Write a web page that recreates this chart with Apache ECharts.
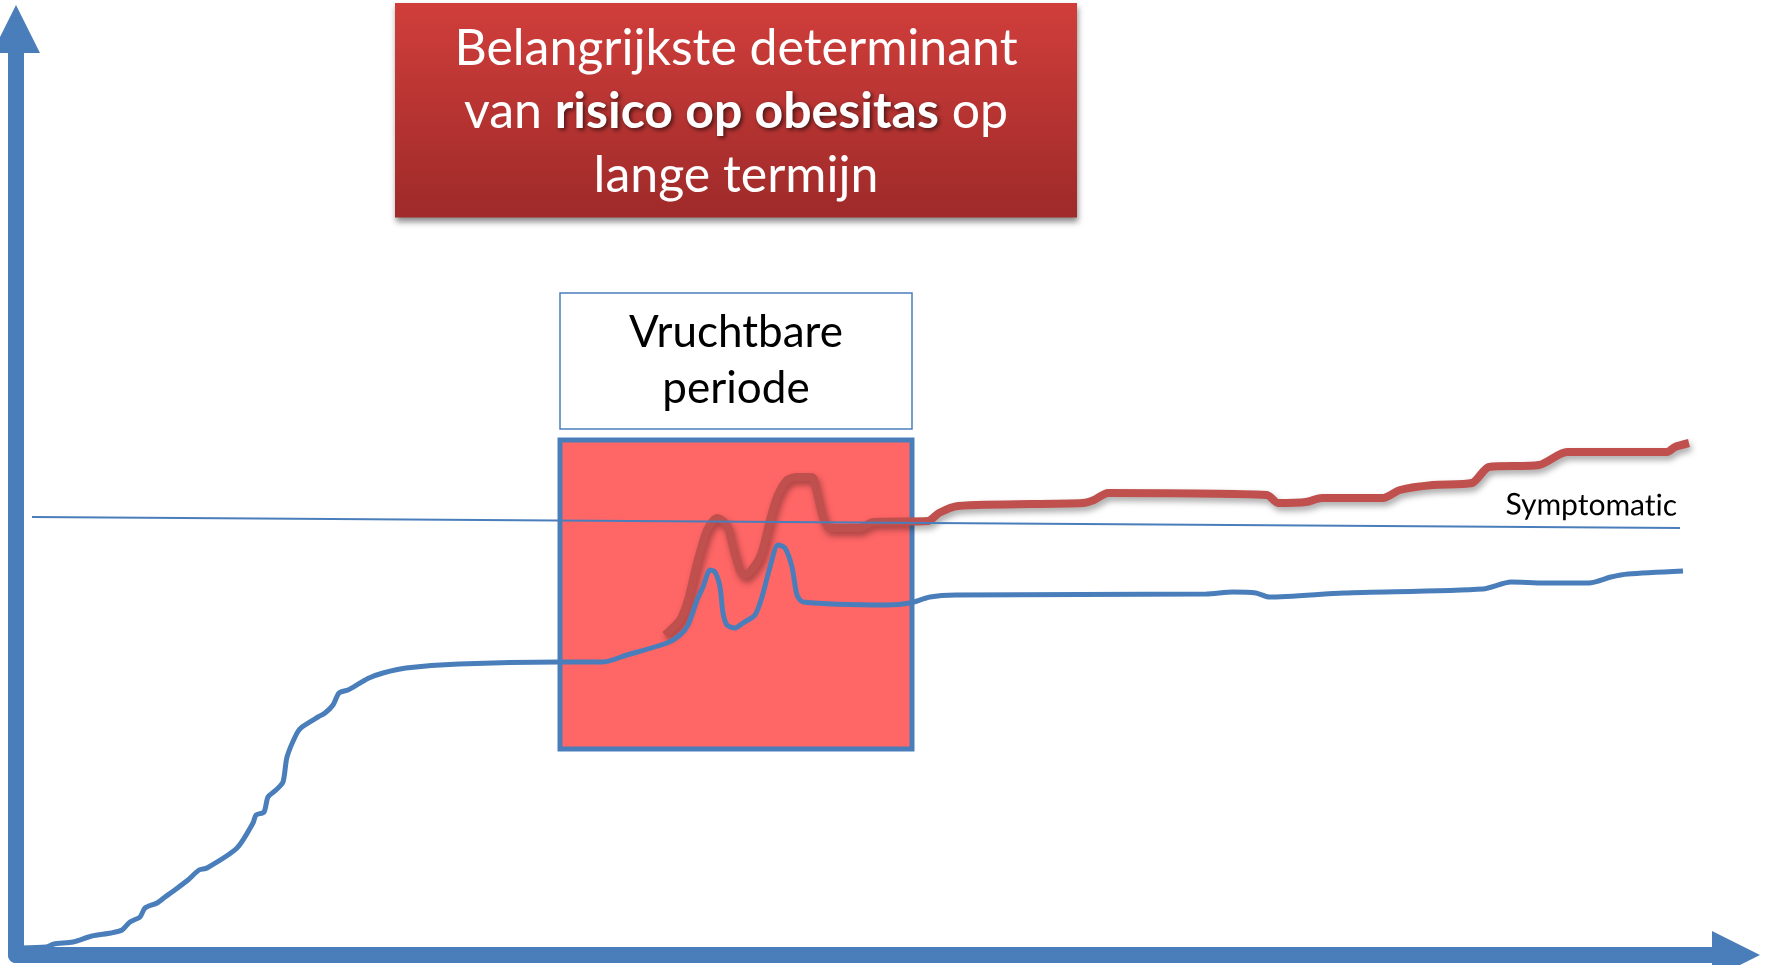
<!DOCTYPE html>
<html>
<head>
<meta charset="utf-8">
<title>Vruchtbare periode</title>
<script src="https://cdn.jsdelivr.net/npm/echarts@6/dist/echarts.min.js"></script>
<style>
  html,body{margin:0;padding:0;background:#fff;}
  #main{width:1769px;height:965px;}
</style>
</head>
<body>
<div id="main"></div>
<script>
'use strict';
// leeftijd (x) en risico (y), willekeurige eenheden
var blueX = [0.4, 3.0, 3.8, 5.7, 7.6, 9.5, 10.6, 11.4, 12.4, 12.9, 14.1, 14.9, 15.6, 17.2, 18.3,
  19.1, 22.1, 23.7, 24.0, 24.8, 25.2, 26.0, 26.7, 27.1, 28.1, 28.6, 30.2, 30.9, 31.7, 32.3,
  33.2, 34.4, 35.3, 36.7, 39.0, 44.3, 54.3, 58.7, 61.1, 65.1, 66.4, 67.2, 68.1, 68.7, 69.4,
  69.9, 70.4, 70.7, 71.1, 71.9, 72.7, 73.9, 74.6, 75.4, 76.2, 76.9, 77.6, 78.1, 78.7, 87.1,
  89.4, 91.4, 94.0, 119.0, 121.7, 124.0, 125.3, 132.8, 146.7, 149.5, 152.8, 157.3, 159.5, 161.2, 166.7];
var blueY = [0.7, 0.8, 1.1, 1.3, 1.9, 2.2, 2.5, 3.3, 3.8, 4.7, 5.2, 5.8, 6.3, 7.5, 8.5,
  8.7, 10.7, 13.2, 14.0, 14.3, 15.8, 16.5, 17.3, 19.8, 22.2, 22.8, 23.8, 24.2, 25.0, 26.2,
  26.5, 27.2, 27.7, 28.2, 28.7, 29.1, 29.3, 29.3, 30.0, 31.2, 32.0, 33.0, 35.5, 36.8, 38.5,
  38.3, 36.8, 34.2, 33.0, 32.7, 33.2, 34.0, 35.8, 38.8, 41.0, 40.7, 38.8, 36.0, 35.3, 35.0,
  35.2, 35.8, 36.0, 36.1, 36.3, 36.2, 35.8, 36.2, 36.6, 37.3, 37.2, 37.2, 37.8, 38.1, 38.4];
var redX = [64.9, 66.4, 67.2, 68.1, 69.1, 70.1, 71.1, 71.7, 72.4, 72.9, 74.4, 75.4, 76.1, 77.1,
  78.1, 79.6, 80.1, 80.7, 81.4, 84.4, 85.7, 91.2, 92.3, 94.2, 106.7, 107.8, 109.2, 125.1,
  126.2, 129.0, 130.6, 136.7, 138.4, 141.7, 145.6, 147.3, 152.3, 155.1, 165.1, 165.9, 167.3];
var redY = [32.0, 33.5, 35.5, 39.2, 42.5, 43.7, 43.0, 40.8, 38.5, 38.0, 39.8, 43.5, 45.8, 47.5,
  47.8, 47.8, 46.2, 43.8, 42.7, 42.7, 43.3, 43.4, 44.2, 44.9, 45.2, 45.5, 46.2, 46.0,
  45.2, 45.3, 45.7, 45.7, 46.5, 47.0, 47.2, 48.8, 49.0, 50.3, 50.3, 50.8, 51.2];
// drempel "Symptomatic"
var symptomaticX = [1.6, 166.4];
var symptomaticY = [43.8, 42.7];
// vruchtbare periode en het kader erboven
var periodX = [54.4, 89.6];
var periodY = [20.6, 51.5];
var periodLabelY = [52.6, 66.2];
var titleLines = ['Belangrijkste determinant', 'van {b|risico op obesitas} op', 'lange termijn'];

function zip(xs, ys){
  var out = [];
  for (var i = 0; i < xs.length; i++){
    out.push([xs[i], ys[i]]);
  }
  return out;
}

var axisColor = '#4a7ebb';
var myChart = echarts.init(document.getElementById('main'));
var option = {
  animation: false,
  backgroundColor: '#fff',
  title: {
    text: titleLines.join('\n'),
    left: 726,
    top: 3,
    textAlign: 'center',
    padding: [14, 10, 10, 10],
    backgroundColor: {
      type: 'linear', x: 0, y: 0, x2: 0, y2: 1,
      colorStops: [{offset: 0, color: '#d03e3b'}, {offset: 1, color: '#9e2a29'}]
    },
    shadowColor: 'rgba(0,0,0,0.45)',
    shadowBlur: 6,
    shadowOffsetX: 1,
    shadowOffsetY: 4,
    textStyle: {
      width: 662,
      fontFamily: 'Lato',
      fontSize: 50,
      fontWeight: 'normal',
      lineHeight: 63.5,
      color: '#fff',
      rich: {
        b: {
          fontFamily: 'Lato',
          fontSize: 50,
          fontWeight: 'bold',
          color: '#fff',
          textShadowColor: 'rgba(0,0,0,0.6)',
          textShadowBlur: 4,
          textShadowOffsetX: 2,
          textShadowOffsetY: 2
        }
      }
    }
  },
  grid: {left: 16, right: 33, top: 29, bottom: 10},
  xAxis: {
    type: 'value', min: 0, max: 172,
    axisLine: {show: true, symbol: ['none', 'triangle'], symbolSize: [48, 48], lineStyle: {color: axisColor, width: 16}},
    axisTick: {show: false}, axisLabel: {show: false}, splitLine: {show: false}
  },
  yAxis: {
    type: 'value', min: 0, max: 92.6,
    axisLine: {show: true, symbol: ['none', 'triangle'], symbolSize: [48, 48], lineStyle: {color: axisColor, width: 16}},
    axisTick: {show: false}, axisLabel: {show: false}, splitLine: {show: false}
  },
  series: [
    {
      name: 'Risico',
      type: 'line',
      data: zip(blueX, blueY),
      showSymbol: false,
      smooth: 0.25,
      silent: true,
      z: 4,
      lineStyle: {color: axisColor, width: 5},
      markArea: {
        silent: true,
        data: [
          [{xAxis: periodX[0], yAxis: periodY[0], itemStyle: {color: '#ff6666', borderColor: axisColor, borderWidth: 5}, label: {show: false}},
           {xAxis: periodX[1], yAxis: periodY[1]}],
          [{name: 'Vruchtbare\nperiode', xAxis: periodX[0], yAxis: periodLabelY[0],
            itemStyle: {color: '#fff', borderColor: axisColor, borderWidth: 1.5},
            label: {show: true, position: 'inside', fontFamily: 'Lato', fontSize: 44, lineHeight: 56, color: '#000'}},
           {xAxis: periodX[1], yAxis: periodLabelY[1]}]
        ]
      },
      markLine: {
        silent: true,
        symbol: ['none', 'none'],
        lineStyle: {color: axisColor, width: 2, type: 'solid'},
        // \u200C houdt de "ti"-ligatuur van Lato tegen
        label: {show: true, position: 'insideEndTop', formatter: 'Symptomat\u200Cic', fontFamily: 'Lato', fontSize: 30, color: '#000', distance: [3, 7]},
        data: [[{coord: [symptomaticX[0], symptomaticY[0]]}, {coord: [symptomaticX[1], symptomaticY[1]]}]]
      }
    },
    {
      name: 'Obesitas',
      type: 'line',
      data: zip(redX, redY),
      showSymbol: false,
      smooth: 0.25,
      silent: true,
      z: 3,
      lineStyle: {color: '#c0504d', width: 8, shadowColor: 'rgba(0,0,0,0.35)', shadowBlur: 6, shadowOffsetX: 2, shadowOffsetY: 4}
    }
  ]
};
myChart.setOption(option);
</script>
</body>
</html>
